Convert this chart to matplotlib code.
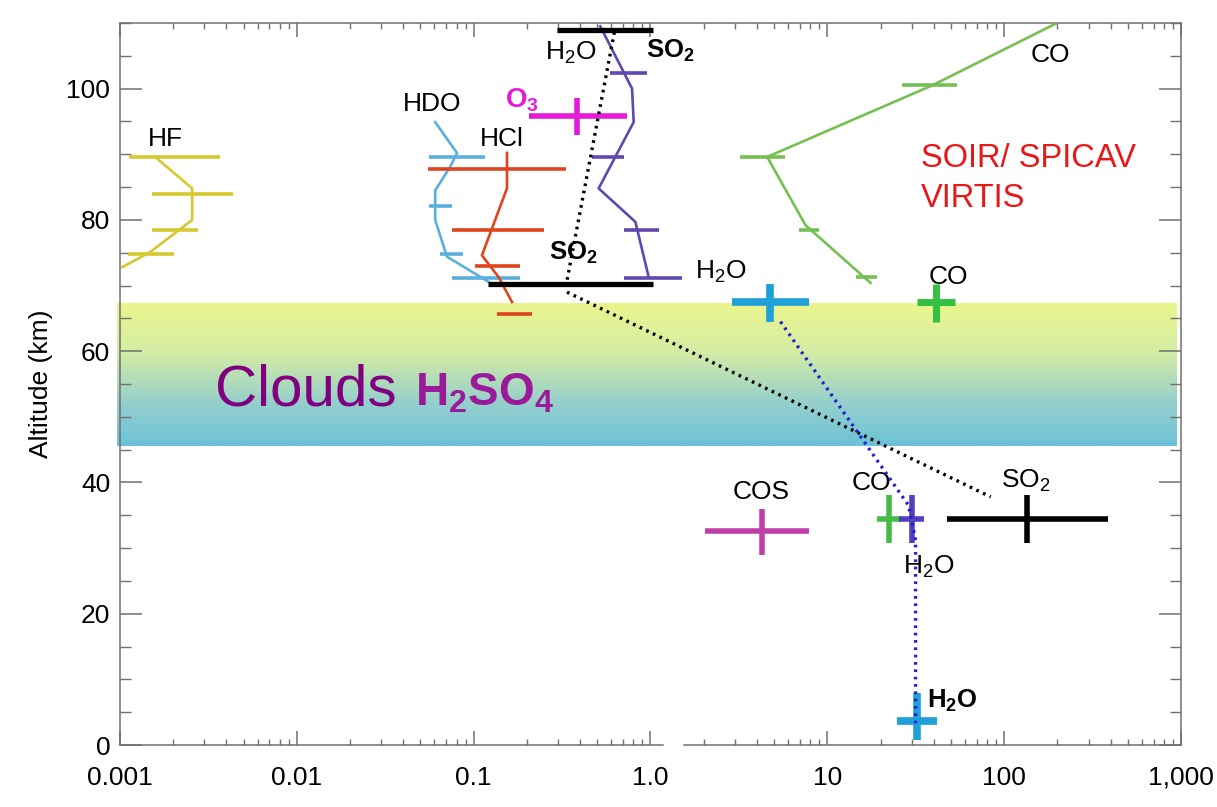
import matplotlib
matplotlib.use("Agg")
import matplotlib.pyplot as plt
import numpy as np
from matplotlib.colors import LinearSegmentedColormap
from matplotlib.ticker import FixedLocator, MultipleLocator, NullFormatter

plt.rcParams["font.family"] = ["Liberation Sans", "DejaVu Sans"]
plt.rcParams["mathtext.fontset"] = "custom"
plt.rcParams["mathtext.rm"] = "Liberation Sans"
plt.rcParams["mathtext.bf"] = "Liberation Sans:bold"
plt.rcParams["mathtext.it"] = "Liberation Sans:italic"

# ---------------------------------------------------------------------------
# Data (mixing ratio in ppm vs altitude in km)
# ---------------------------------------------------------------------------
XTICKS = [1e-3, 1e-2, 1e-1, 1.0, 10.0, 100.0, 1000.0]
XTICK_LABELS = ["0.001", "0.01", "0.1", "1.0", "10", "100", "1,000"]

CLOUD_BOTTOM = 45.6
CLOUD_TOP = 67.5

# profiles (line) + horizontal error bars
HF_LINE_X = [0.00158, 0.00256, 0.00256, 0.00148, 0.00103]
HF_LINE_ALT = [89.6, 84.8, 80.0, 75.1, 72.8]
HF_BAR_ALT = [89.6, 84.0, 78.5, 74.8]
HF_BAR_LO = [0.00112, 0.00152, 0.00152, 0.00111]
HF_BAR_HI = [0.00368, 0.00436, 0.00276, 0.00202]

HDO_LINE_X = [0.0606, 0.0805, 0.0737, 0.0606, 0.0606, 0.0706, 0.111, 0.124]
HDO_LINE_ALT = [94.9, 90.2, 88.1, 84.5, 80.0, 74.4, 71.2, 70.4]
HDO_BAR_ALT = [89.6, 82.1, 74.8, 71.2]
HDO_BAR_LO = [0.0556, 0.0556, 0.0647, 0.0754]
HDO_BAR_HI = [0.1163, 0.0754, 0.0870, 0.1819]

HCL_LINE_X = [0.1543, 0.1543, 0.1114, 0.1383, 0.1647]
HCL_LINE_ALT = [90.2, 84.8, 74.6, 71.3, 67.5]
HCL_BAR_ALT = [87.7, 78.5, 73.0, 65.7]
HCL_BAR_LO = [0.0554, 0.0754, 0.1021, 0.1355]
HCL_BAR_HI = [0.3331, 0.2486, 0.1835, 0.2137]

H2O_LINE_X = [0.52, 0.7866, 0.8035, 0.5092, 0.8215, 0.9768]
H2O_LINE_ALT = [109.5, 100.0, 94.9, 84.8, 79.7, 71.3]
H2O_BAR_ALT = [102.4, 89.6, 78.5, 71.2]
H2O_BAR_LO = [0.5932, 0.4672, 0.7053, 0.7053]
H2O_BAR_HI = [0.9568, 0.7053, 1.113, 1.510]

CO_LINE_X = [195.6, 39.24, 4.570, 7.526, 17.56]
CO_LINE_ALT = [109.9, 100.5, 89.6, 79.2, 70.4]
CO_BAR_ALT = [100.5, 89.6, 78.4, 71.3]
CO_BAR_LO = [26.54, 3.227, 6.898, 14.44]
CO_BAR_HI = [54.35, 5.800, 8.952, 19.16]

SO2_BAR_ALT = [108.9, 70.3]
SO2_BAR_LO = [0.296, 0.1205]
SO2_BAR_HI = [1.029, 1.029]

# dotted links
SO2_DOT_UPPER_X = [0.6248, 0.3373]
SO2_DOT_UPPER_ALT = [108.6, 70.8]
SO2_DOT_LOWER_X = [0.3373, 83.9]
SO2_DOT_LOWER_ALT = [69.0, 37.8]
H2O_DOT_X = [5.434, 28.81, 31.56, 31.56]
H2O_DOT_ALT = [64.5, 36.5, 31.2, 2.6]

# single measurements drawn as crosses
CROSS_NAMES = ["O3", "H2O_cloudtop", "CO_cloudtop", "COS", "CO_35km",
               "H2O_35km", "SO2_35km", "H2O_surface"]
CROSS_X = [0.384, 4.771, 40.95, 4.28, 22.28, 30.23, 135.3, 31.98]
CROSS_ALT = [95.9, 67.5, 67.5, 32.6, 34.5, 34.5, 34.5, 3.7]
CROSS_XLO = [0.2045, 2.895, 32.27, 2.045, 19.16, 25.29, 47.69, 24.86]
CROSS_XHI = [0.737, 7.859, 52.47, 7.859, 25.96, 35.17, 386.8, 41.50]
CROSS_ALO = [92.9, 64.4, 64.5, 28.9, 30.8, 30.8, 30.8, 0.8]
CROSS_AHI = [98.5, 70.3, 70.3, 36.0, 38.1, 38.1, 38.1, 8.0]

CROSS_COLORS = ["#e61ad8", "#1fa0d8", "#34c040", "#c040a8", "#44bb44",
                "#5040c0", "#000000", "#1fa0d8"]
CROSS_LW = [4.0, 5.5, 5.0, 4.0, 4.0, 4.0, 4.0, 5.5]

# ---------------------------------------------------------------------------
fig = plt.figure(figsize=(12.17, 8.07), dpi=100)
ax = fig.add_axes([0.0986, 0.0768, 0.8718, 0.8947])
ax.set_xscale("log")
ax.set_xlim(1e-3, 1e3)
ax.set_ylim(0, 110)

# cloud layer gradient
cloud_cmap = LinearSegmentedColormap.from_list(
    "clouds",
    [(0.0, "#6cc2d8"), (0.3, "#96d0cc"), (0.65, "#d4eca4"), (1.0, "#ebf68c")],
)
grad = np.linspace(0, 1, 256).reshape(-1, 1)
ax.imshow(
    grad,
    cmap=cloud_cmap,
    origin="lower",
    aspect="auto",
    extent=[-0.003, 0.997, CLOUD_BOTTOM, CLOUD_TOP],
    transform=ax.get_yaxis_transform(),
    zorder=0.5,
    clip_on=False,
)

profile_sets = [
    (HF_LINE_X, HF_LINE_ALT, HF_BAR_ALT, HF_BAR_LO, HF_BAR_HI, "#d8c830"),
    (HDO_LINE_X, HDO_LINE_ALT, HDO_BAR_ALT, HDO_BAR_LO, HDO_BAR_HI, "#5ab0dc"),
    (HCL_LINE_X, HCL_LINE_ALT, HCL_BAR_ALT, HCL_BAR_LO, HCL_BAR_HI, "#e0441e"),
    (H2O_LINE_X, H2O_LINE_ALT, H2O_BAR_ALT, H2O_BAR_LO, H2O_BAR_HI, "#6048b0"),
    (CO_LINE_X, CO_LINE_ALT, CO_BAR_ALT, CO_BAR_LO, CO_BAR_HI, "#74c052"),
]
for lx, lalt, balt, blo, bhi, color in profile_sets:
    ax.plot(lx, lalt, color=color, lw=1.9, zorder=3)
    ax.hlines(balt, blo, bhi, color=color, lw=2.6, zorder=3)

ax.hlines(SO2_BAR_ALT, SO2_BAR_LO, SO2_BAR_HI, color="black", lw=3.8, zorder=4)

dots = (0, (0.8, 1.4))
ax.plot(SO2_DOT_UPPER_X, SO2_DOT_UPPER_ALT, color="black", lw=2.4, ls=dots, zorder=5)
ax.plot(SO2_DOT_LOWER_X, SO2_DOT_LOWER_ALT, color="black", lw=2.4, ls=dots, zorder=5)

for i in range(len(CROSS_NAMES)):
    ax.hlines(CROSS_ALT[i], CROSS_XLO[i], CROSS_XHI[i],
              color=CROSS_COLORS[i], lw=CROSS_LW[i], zorder=4)
    ax.vlines(CROSS_X[i], CROSS_ALO[i], CROSS_AHI[i],
              color=CROSS_COLORS[i], lw=CROSS_LW[i], zorder=4)

ax.plot(H2O_DOT_X, H2O_DOT_ALT, color="#2020d0", lw=2.4, ls=dots, zorder=6)

# ---------------------------------------------------------------------------
# labels
# ---------------------------------------------------------------------------
small = 19
ax.text(0.0018, 92.4, "HF", fontsize=small, ha="center", va="center")
ax.text(0.0583, 97.7, "HDO", fontsize=small, ha="center", va="center")
ax.text(0.1452, 92.4, "HCl", fontsize=small, ha="center", va="center")
ax.text(0.188, 98.2, r"$\mathbf{O_3}$", fontsize=20, color="#e61ad8",
        ha="center", va="center")
ax.text(0.3521, 105.4, r"H$_2$O", fontsize=small, ha="center", va="center")
ax.text(1.296, 105.7, r"$\mathbf{SO_2}$", fontsize=18.5, ha="center", va="center")
ax.text(0.3662, 74.9, r"$\mathbf{SO_2}$", fontsize=18.5, ha="center", va="center")
ax.text(2.487, 72.1, r"H$_2$O", fontsize=small, ha="center", va="center")
ax.text(183.4, 105.1, "CO", fontsize=small, ha="center", va="center")
ax.text(48.5, 71.3, "CO", fontsize=small, ha="center", va="center")
ax.text(4.24, 38.6, "COS", fontsize=small, ha="center", va="center")
ax.text(17.8, 39.9, "CO", fontsize=small, ha="center", va="center")
ax.text(132.3, 40.2, r"SO$_2$", fontsize=small, ha="center", va="center")
ax.text(37.4, 27.2, r"H$_2$O", fontsize=small, ha="center", va="center")
ax.text(51.1, 6.7, r"$\mathbf{H_2O}$", fontsize=18.5, ha="center", va="center")

ax.text(33.7, 89.4, "SOIR/ SPICAV", fontsize=23.5, color="#e81818",
        ha="left", va="center")
ax.text(33.7, 83.3, "VIRTIS", fontsize=23.5, color="#e81818",
        ha="left", va="center")

ax.text(0.003447, 51.8, "Clouds", fontsize=42, color="#800080",
        ha="left", va="baseline", zorder=6)
ax.text(0.0467, 51.8, r"$\mathbf{H_2SO_4}$", fontsize=33, color="#9a1a9a",
        ha="left", va="baseline", zorder=6)

# ---------------------------------------------------------------------------
# axes styling
# ---------------------------------------------------------------------------
axis_grey = "#707070"
for side in ["left", "right", "top"]:
    ax.spines[side].set_color(axis_grey)
    ax.spines[side].set_linewidth(1.1)
ax.spines["bottom"].set_visible(False)
# broken bottom axis line
ax.plot([1e-3, 1.18], [0, 0], color=axis_grey, lw=1.1,
        transform=ax.get_xaxis_transform(), clip_on=False, zorder=7)
ax.plot([1.54, 1e3], [0, 0], color=axis_grey, lw=1.1,
        transform=ax.get_xaxis_transform(), clip_on=False, zorder=7)

ax.xaxis.set_major_locator(FixedLocator(XTICKS))
ax.set_xticklabels(XTICK_LABELS)
minor = [m * d for d in XTICKS[:-1] for m in range(2, 10)]
ax.xaxis.set_minor_locator(FixedLocator(minor))
ax.xaxis.set_minor_formatter(NullFormatter())
ax.yaxis.set_major_locator(MultipleLocator(20))
ax.yaxis.set_minor_locator(MultipleLocator(5))

ax.tick_params(axis="x", which="both", direction="in", top=True, bottom=True,
               color=axis_grey, labelsize=19, pad=15)
ax.tick_params(axis="x", which="major", length=10, width=1.1)
ax.tick_params(axis="x", which="minor", length=4.5, width=1.0)
ax.tick_params(axis="y", which="both", direction="in", left=True, right=True,
               color=axis_grey, labelsize=19, pad=7)
ax.tick_params(axis="y", which="major", length=16, width=1.1)
ax.tick_params(axis="y", which="minor", length=8, width=1.0)

ax.set_ylabel("Altitude (km)", fontsize=19, labelpad=10)

ax.set_xlim(1e-3, 1e3)
ax.set_ylim(0, 110)

fig.savefig("out.png", dpi=100, facecolor="white")
